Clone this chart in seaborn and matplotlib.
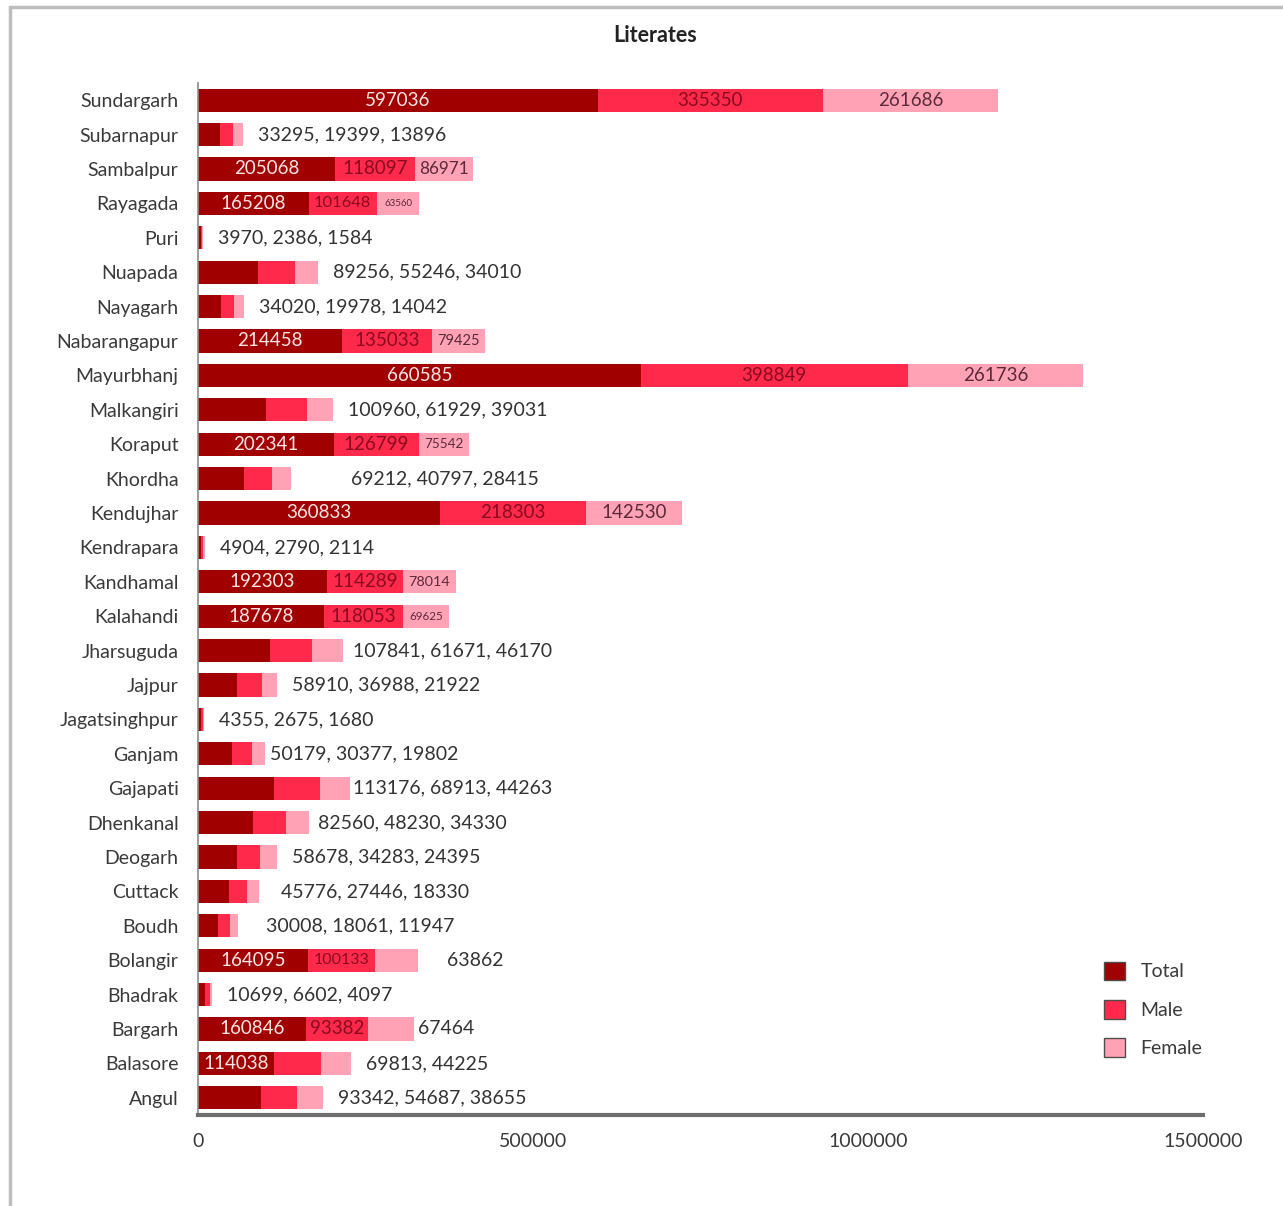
import numpy as np
import pandas as pd
import matplotlib
matplotlib.use('Agg')
import matplotlib.pyplot as plt
from matplotlib.patches import Patch, Rectangle
import seaborn as sns

districts = ['Sundargarh', 'Subarnapur', 'Sambalpur', 'Rayagada', 'Puri', 'Nuapada',
             'Nayagarh', 'Nabarangapur', 'Mayurbhanj', 'Malkangiri', 'Koraput', 'Khordha',
             'Kendujhar', 'Kendrapara', 'Kandhamal', 'Kalahandi', 'Jharsuguda', 'Jajpur',
             'Jagatsinghpur', 'Ganjam', 'Gajapati', 'Dhenkanal', 'Deogarh', 'Cuttack',
             'Boudh', 'Bolangir', 'Bhadrak', 'Bargarh', 'Balasore', 'Angul']
total = [597036, 33295, 205068, 165208, 3970, 89256, 34020, 214458, 660585, 100960,
         202341, 69212, 360833, 4904, 192303, 187678, 107841, 58910, 4355, 50179,
         113176, 82560, 58678, 45776, 30008, 164095, 10699, 160846, 114038, 93342]
male = [335350, 19399, 118097, 101648, 2386, 55246, 19978, 135033, 398849, 61929,
        126799, 40797, 218303, 2790, 114289, 118053, 61671, 36988, 2675, 30377,
        68913, 48230, 34283, 27446, 18061, 100133, 6602, 93382, 69813, 54687]
female = [261686, 13896, 86971, 63560, 1584, 34010, 14042, 79425, 261736, 39031,
          75542, 28415, 142530, 2114, 78014, 69625, 46170, 21922, 1680, 19802,
          44263, 34330, 24395, 18330, 11947, 63862, 4097, 67464, 44225, 38655]
# how many segments carry their own label inside the bar, the rest are written to the right
inside = [3, 0, 3, 3, 0, 0, 0, 3, 3, 0, 3, 0, 3, 0, 3, 3, 0, 0, 0, 0,
          0, 0, 0, 0, 0, 2, 0, 2, 1, 0]

dfLit = pd.DataFrame({'district': districts, 'total': total, 'male': male, 'female': female})
dfLit['tm'] = dfLit.total + dfLit.male
dfLit['tmf'] = dfLit.tm + dfLit.female

colTotal = '#A00000'
colMale = '#FF2A4B'
colFemale = '#FFA2B6'
txtInside = ['#FFE6E6', '#8A0A1E', '#5A2A38']

sns.set_theme(style='white')
plt.rcParams['font.family'] = ['Lato', 'DejaVu Sans']

W, H = 1283, 1206
fig = plt.figure(figsize=(W / 100, H / 100), dpi=100)
ax = fig.add_axes([198 / W, 91 / H, 1005 / W, 1032 / H])

# stacked look: draw the cumulative bars from the longest to the shortest
sns.barplot(data=dfLit, x='tmf', y='district', orient='h', color=colFemale,
            width=0.67, saturation=1, errorbar=None, linewidth=0, ax=ax)
sns.barplot(data=dfLit, x='tm', y='district', orient='h', color=colMale,
            width=0.67, saturation=1, errorbar=None, linewidth=0, ax=ax)
sns.barplot(data=dfLit, x='total', y='district', orient='h', color=colTotal,
            width=0.67, saturation=1, errorbar=None, linewidth=0, ax=ax)

ax.set_xlim(0, 1500000)
ax.set_xticks([0, 500000, 1000000, 1500000])
ax.set_xticklabels(['0', '500000', '1000000', '1500000'])
ax.set_xlabel('')
ax.set_ylabel('')
ax.tick_params(axis='x', length=0, pad=13, labelsize=14, labelcolor='#3a3a3a')
ax.tick_params(axis='y', length=0, pad=14, labelsize=14, labelcolor='#3a3a3a')

for s in ['top', 'right']:
    ax.spines[s].set_visible(False)
ax.spines['left'].set_color('#8c8c8c')
ax.spines['left'].set_linewidth(1.2)
ax.spines['bottom'].set_color('#6e6e6e')
ax.spines['bottom'].set_linewidth(3)

pxPerUnit = 1005 / 1500000
# a few of the outside labels sit further from their bar
extraPad = {'Khordha': 60, 'Boudh': 28, 'Cuttack': 22, 'Bolangir': 29, 'Bargarh': 4,
            'Gajapati': 3, 'Ganjam': 5, 'Jharsuguda': 10, 'Dhenkanal': 9}

for i, row in dfLit.iterrows():
    vals = [row.total, row.male, row.female]
    starts = [0, row.total, row.tm]
    n = inside[i]
    for k in range(n):
        perChar = vals[k] * pxPerUnit / len(str(vals[k]))
        fs = min(13.5, max(6, 7 + (perChar - 8.5) * 1.7))
        ax.text(starts[k] + vals[k] / 2, i, str(vals[k]), ha='center', va='center',
                color=txtInside[k], fontsize=fs)
    if n < 3:
        ax.annotate(', '.join(str(v) for v in vals[n:]), xy=(row.tmf, i),
                    xytext=(extraPad.get(row.district, 15), 0), textcoords='offset pixels',
                    ha='left', va='center', fontsize=14, color='#333333')

fig.text(655 / W, 1 - 36 / H, 'Literates', ha='center', va='center',
         fontsize=15.5, fontweight='bold', color='#222222')

handles = [Patch(facecolor=colTotal, edgecolor='#4d4d4d', linewidth=1, label='Total'),
           Patch(facecolor=colMale, edgecolor='#4d4d4d', linewidth=1, label='Male'),
           Patch(facecolor=colFemale, edgecolor='#4d4d4d', linewidth=1, label='Female')]
fig.legend(handles=handles, loc='upper left', bbox_to_anchor=(1086 / W, 1 - 944 / H),
           frameon=False, fontsize=14, handlelength=1.1, handleheight=1.1,
           labelspacing=1.0, handletextpad=0.8, labelcolor='#3a3a3a')

# grey frame of the chart area
fig.patches.append(Rectangle((10 / W, -0.05), 1.2, 1.05 - 7 / H, transform=fig.transFigure,
                             fill=False, edgecolor='#bdbdbd', linewidth=2.5))

fig.savefig('out.png', dpi=100)
